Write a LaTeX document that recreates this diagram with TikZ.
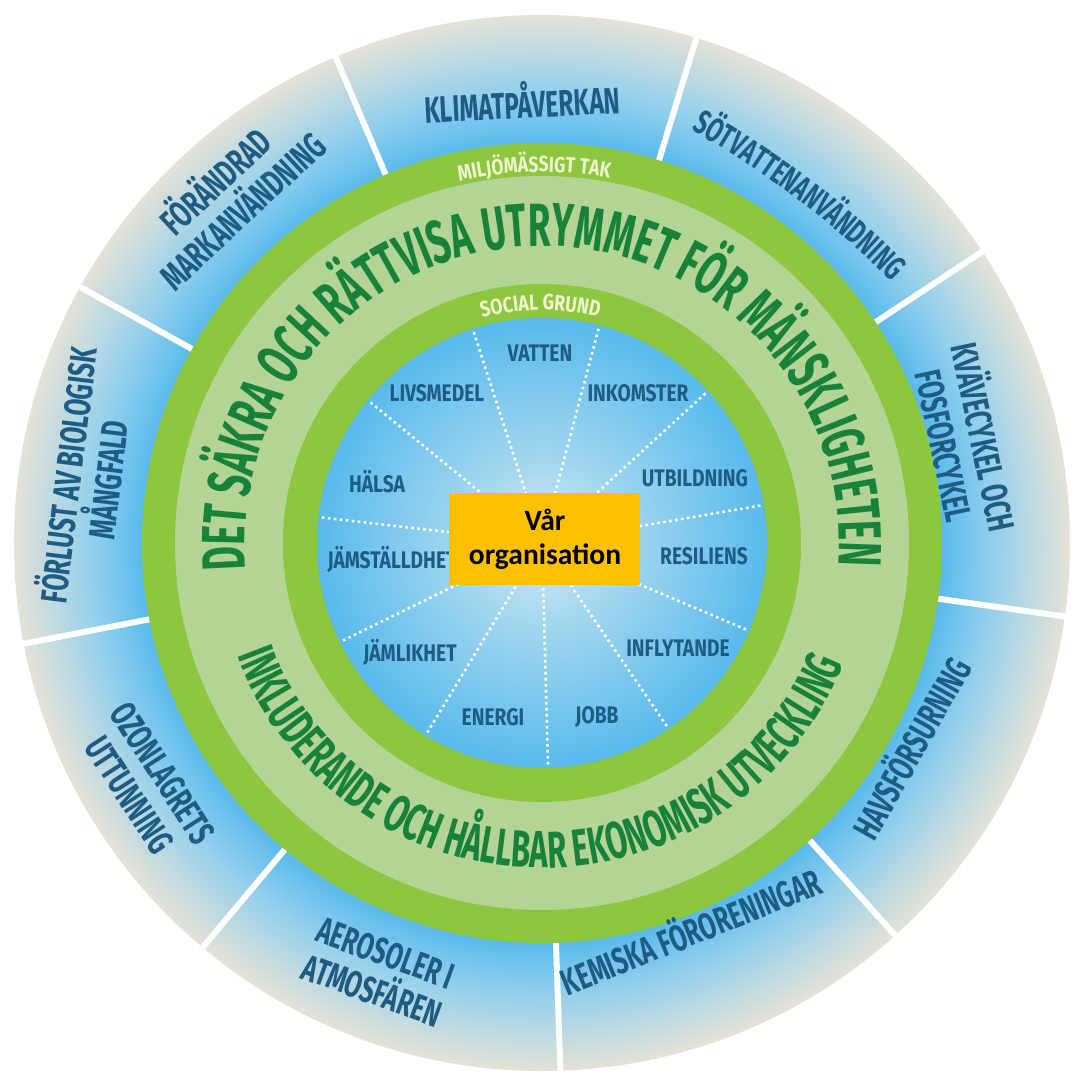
\documentclass[tikz,border=0pt]{standalone}
\usepackage{fontspec}
\usetikzlibrary{decorations.text}
\newfontfamily\ringfont[FakeStretch=0.6]{Fira Sans}
\newfontfamily\outerfont[FakeStretch=0.66]{Fira Sans}
\newfontfamily\sectorfont[FakeStretch=0.8]{Fira Sans}
\newfontfamily\bandfont[FakeStretch=0.8]{Fira Sans}
\newfontfamily\boxfont{Carlito}
\definecolor{ringgreen}{RGB}{141,198,63}
\definecolor{bandgreen}{RGB}{180,212,150}
\definecolor{textgreen}{RGB}{24,130,58}
\definecolor{labelblue}{RGB}{30,92,132}
\definecolor{pale}{RGB}{240,246,205}
\definecolor{orgfill}{RGB}{255,192,0}
\definecolor{skyblue}{RGB}{88,186,236}
\definecolor{mistblue}{RGB}{150,208,236}
\definecolor{beige}{RGB}{228,226,214}
\definecolor{coreblue}{RGB}{214,234,240}
\pgfdeclareradialshading{outershade}{\pgfpoint{0bp}{0bp}}{color(0bp)=(skyblue); color(18.9bp)=(skyblue); color(21.5bp)=(mistblue); color(25bp)=(beige); color(50bp)=(beige)}
\pgfdeclareradialshading{innershade}{\pgfpoint{0bp}{0bp}}{color(0bp)=(coreblue); color(9bp)=(coreblue!60!skyblue); color(25bp)=(skyblue); color(50bp)=(skyblue)}
\begin{document}
\begin{tikzpicture}[x=1pt, y=1pt,
    outer/.style={font=\outerfont\bfseries\fontsize{37}{40}\selectfont, text=labelblue, align=center, inner sep=0pt},
    sector/.style={font=\sectorfont\bfseries\fontsize{24}{24}\selectfont, text=labelblue, inner sep=0pt},
    spoke/.style={white, line width=2.6pt, dash pattern=on 2.6pt off 3.4pt},
    divider/.style={white, line width=6pt},
    orgbox/.style={fill=orgfill, minimum width=191pt, minimum height=92pt, align=center, font=\boxfont\bfseries\fontsize{29.5}{34}\selectfont}]
    \useasboundingbox (-542,-531) rectangle (532,543);

    \shade[shading=outershade] (0,0) circle[radius=528];
    \foreach \a in {33.5,73,113,151,191,230,272,312,352}
        \draw[divider] (\a:400) -- (\a:540);
    \fill[ringgreen] (0,0) circle[radius=400];
    \fill[bandgreen] (0,0) circle[radius=367];
    \fill[ringgreen] (0,0) circle[radius=259];
    \shade[shading=innershade] (0,0) circle[radius=225];
    \foreach \k in {0,...,10}
        \draw[spoke] ({75.2+\k*32.727}:45) -- ({75.2+\k*32.727}:225);

    \path[decorate, decoration={text along path, text align=center, text color=textgreen,
        text={|\ringfont\bfseries\fontsize{61}{61}\selectfont|DET SÄKRA OCH RÄTTVISA UTRYMMET FÖR MÄNSKLIGHETEN}}]
        (200:297) arc[start angle=200, end angle=-19.2, radius=297];
    \path[decorate, decoration={text along path, text align=center, text color=textgreen,
        text={|\ringfont\bfseries\fontsize{52}{52}\selectfont|INKLUDERANDE OCH HÅLLBAR EKONOMISK UTVECKLING}}]
        (179.2:325) arc[start angle=179.2, end angle=359.2, radius=325];
    \path[decorate, decoration={text along path, text align=center, text color=pale,
        text={|\bandfont\bfseries\fontsize{22}{22}\selectfont|MILJÖMÄSSIGT TAK}}]
        (141.2:371) arc[start angle=141.2, end angle=41.2, radius=371];
    \path[decorate, decoration={text along path, text align=center, text color=pale,
        text={|\bandfont\bfseries\fontsize{22}{22}\selectfont|SOCIAL GRUND}}]
        (140.4:233) arc[start angle=140.4, end angle=40.4, radius=233];
    \path[decorate, decoration={text along path, text align=center, text color=labelblue,
        text={|\outerfont\bfseries\fontsize{34}{34}\selectfont|SÖTVATTENANVÄNDNING}}]
        (86,445.9) arc[start angle=65, end angle=40.7, radius=930];

    \node[outer, rotate=3] (klimat) at (-20,443) {KLIMATPÅVERKAN};
    \node[outer, rotate=43] (forandrad) at (-315,349) {FÖRÄNDRAD\\MARKANVÄNDNING};
    \node[outer, rotate=83] (forlust) at (-457,66) {FÖRLUST AV BIOLOGISK\\MÅNGFALD};
    \node[outer, rotate=-57] (ozon) at (-396,-241) {OZONLAGRETS\\UTTUNNING};
    \node[outer, rotate=-20] (aerosol) at (-163,-429) {AEROSOLER I\\ATMOSFÄREN};
    \node[outer, rotate=22] (kemiska) at (148,-386) {KEMISKA FÖRORENINGAR};
    \node[outer, rotate=60.6] (havs) at (367,-204) {HAVSFÖRSURNING};
    \node[outer, rotate=-78] (kvave) at (425,102) {KVÄVECYKEL OCH\\FOSFORCYKEL};

    \node[sector] (vatten) at (-2,190) {VATTEN};
    \node[sector] (inkomster) at (96,150) {INKOMSTER};
    \node[sector] (utbildning) at (153,65) {UTBILDNING};
    \node[sector] (resiliens) at (162,-13) {RESILIENS};
    \node[sector] (inflytande) at (136,-105) {INFLYTANDE};
    \node[sector] (jobb) at (55,-174) {JOBB};
    \node[sector] (energi) at (-49,-174) {ENERGI};
    \node[sector] (jamlikhet) at (-132,-109) {JÄMLIKHET};
    \node[sector] (jamstalldhet) at (-150,-16) {JÄMSTÄLLDHET};
    \node[sector] (halsa) at (-165,61) {HÄLSA};
    \node[sector] (livsmedel) at (-105,150) {LIVSMEDEL};

    \node[orgbox] (org) at (3,4) {Vår\\organisation};
\end{tikzpicture}
\end{document}
